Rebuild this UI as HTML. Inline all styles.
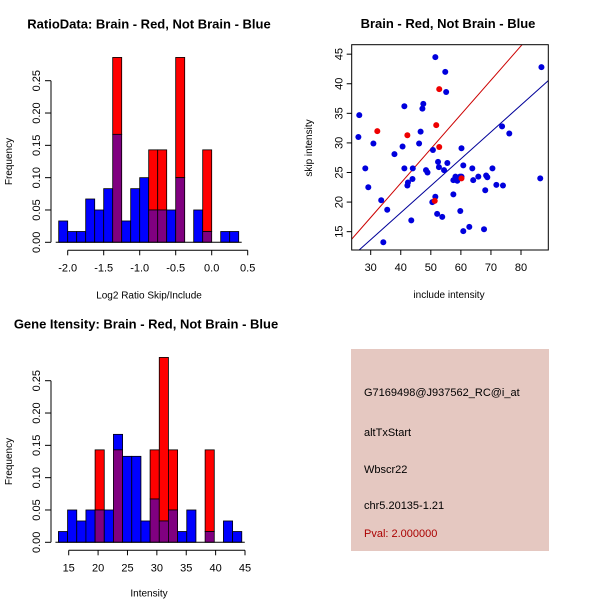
<!DOCTYPE html>
<html><head><meta charset="utf-8"><style>body{margin:0;background:#fff}svg{display:block;font-family:"Liberation Sans",sans-serif}</style></head>
<body>
<svg id="c" width="600" height="600" xmlns="http://www.w3.org/2000/svg"></svg>
<script>
// Ratio histogram
const ratioBreakStart = -2.125, ratioBin = 0.125;
const ratioBlue = [0.033,0.0167,0.0167,0.067,0.05,0.083,0.167,0.033,0.083,0.10,0.05,0.05,0.05,0.10,0,0.05,0.0167,0,0.0167,0.0167];
const ratioRed  = [0,0,0,0,0,0,0.286,0,0,0,0.143,0.143,0,0.286,0,0,0.143,0,0,0];
const ratioXTicks = [-2.0,-1.5,-1.0,-0.5,0.0,0.5];
const ratioXLabels = ["-2.0","-1.5","-1.0","-0.5","0.0","0.5"];
const freqTicks = [0,0.05,0.10,0.15,0.20,0.25];
const freqLabels = ["0.00","0.05","0.10","0.15","0.20","0.25"];
// Intensity histogram
const intBreakStart = 13.25, intBin = 1.56;
const intBlue = [0.0167,0.05,0.033,0.05,0.05,0.05,0.167,0.133,0.133,0.033,0.067,0.033,0.05,0.0167,0.05,0,0.0167,0,0.033,0.0167];
const intRed  = [0,0,0,0,0.143,0,0.143,0,0,0,0.143,0.286,0.143,0,0,0,0.143,0,0,0];
const intXTicks = [15,20,25,30,35,40,45];
// Scatter
const blueX = [51.5,54.8,55.1,86.8,26.2,41.2,47.5,47.2,25.9,30.9,46.6,46.1,40.6,37.9,50.7,60.2,73.7,76.1,28.2,41.2,44.0,52.4,55.5,52.7,60.8,63.8,70.5,29.2,42.4,42.2,43.9,48.4,48.9,54.4,57.5,58.2,59.7,58.8,64.1,65.8,68.4,68.8,57.5,68.1,71.8,74.0,86.4,33.5,51.5,50.5,35.5,52.1,53.8,59.8,43.5,60.8,62.8,67.7,34.2,60.2];
const blueY = [44.5,42.0,38.6,42.8,34.7,36.2,36.6,35.8,31.0,29.9,31.9,29.9,29.4,28.1,28.8,29.1,32.8,31.6,25.7,25.7,25.7,26.8,26.6,25.9,26.2,25.7,25.7,22.5,23.3,22.8,23.9,25.4,25.0,25.4,23.7,24.3,24.3,23.6,23.7,24.3,24.5,24.2,21.3,22.0,22.9,22.8,24.0,20.3,20.9,20.0,18.7,18.0,17.5,18.5,16.9,15.1,15.8,15.4,13.2,24.3];
const redX = [32.2,42.2,51.8,52.8,52.8,60.2,51.3];
const redY = [32.0,31.3,33.0,39.1,29.3,24.0,20.2];
const redSlope = 0.58, blueSlope = 0.455;
const scXTicks = [30,40,50,60,70,80];
const scYTicks = [15,20,25,30,35,40,45];

const svg = document.getElementById('c');
const NS = 'http://www.w3.org/2000/svg';
function mk(tag, attrs, parent){const e=document.createElementNS(NS,tag);for(const k in attrs)e.setAttribute(k,attrs[k]);(parent||svg).appendChild(e);return e;}
function txt(x,y,s,opts,parent){const t=mk('text',Object.assign({x:x,y:y,'font-size':11,'text-anchor':'middle',fill:'#000'},opts||{}),parent);t.textContent=s;return t;}

function hist(name, gx, by, breakStart, bw, blue, red, xt, xl, title, titleX, xlab, xlabDy){
  const g = mk('g',{});
  
  
  const y0 = by, ys = 646.4;
  const Y = v => y0 - v*ys;
  const X = v => gx.x0 + (v - gx.v0)*gx.k;
  for(let i=0;i<blue.length;i++){
    const b=blue[i], r=red[i]; const lo=Math.min(b,r), hi=Math.max(b,r);
    const xa=X(breakStart+i*bw), xb=X(breakStart+(i+1)*bw);
    if(hi<=0) continue;
    const bar=mk('g',{},g);
    
    
    if(hi>lo) mk('rect',{x:xa,y:Y(hi),width:xb-xa,height:Y(lo)-Y(hi),fill:(b>r?'#0000ff':'#ff0000'),stroke:'#000','stroke-width':0.8},bar);
    if(lo>0) mk('rect',{x:xa,y:Y(lo),width:xb-xa,height:Y(0)-Y(lo),fill:'#800080',stroke:'#000','stroke-width':0.8},bar);
  }
  mk('line',{x1:X(breakStart)-3,x2:X(breakStart+blue.length*bw)+3,y1:y0,y2:y0,stroke:'#000'},g);
  const yax=mk('g',{},g);
  
  
  mk('line',{x1:51,x2:51,y1:Y(0),y2:Y(0.25),stroke:'#000'},yax);
  freqTicks.forEach((v,i)=>{mk('line',{x1:45,x2:51,y1:Y(v),y2:Y(v),stroke:'#000'},yax);txt(40,Y(v),freqLabels[i],{transform:`rotate(-90 40 ${Y(v)})`},yax);});
  txt(12,(Y(0)+Y(0.25))/2,'Frequency',{'font-size':10,transform:`rotate(-90 12 ${(Y(0)+Y(0.25))/2})`},yax);
  const xax=mk('g',{},g);
  
  
  const ay=y0+8;
  mk('line',{x1:X(xt[0]),x2:X(xt[xt.length-1]),y1:ay,y2:ay,stroke:'#000'},xax);
  xt.forEach((v,i)=>{mk('line',{x1:X(v),x2:X(v),y1:ay,y2:ay+5,stroke:'#000'},xax);txt(X(v),ay+21,xl[i],{},xax);});
  txt(149,y0+xlabDy,xlab,{'font-size':10},xax);
  const t=txt(titleX,y0-214,title,{'font-size':13,'font-weight':'bold'},g);
  
  
}
hist('ratio-histogram',{x0:67.7,v0:-2.0,k:72},242.3,ratioBreakStart,ratioBin,ratioBlue,ratioRed,ratioXTicks,ratioXLabels,'RatioData: Brain - Red, Not Brain - Blue',149,'Log2 Ratio Skip/Include',56);
hist('intensity-histogram',{x0:68.7,v0:15,k:5.877},542.3,intBreakStart,intBin,intBlue,intRed,intXTicks,intXTicks.map(String),'Gene Itensity: Brain - Red, Not Brain - Blue',146,'Intensity',54);

// scatter
const sc=mk('g',{});


const L=351.7,R=548.3,T=44.7,B=250;
const xmin=23.68,xmax=89.08,ymin=11.9,ymax=46.6;
const SX=v=>L+(v-xmin)/(xmax-xmin)*(R-L), SY=v=>B-(v-ymin)/(ymax-ymin)*(B-T);
const cp=mk('clipPath',{id:'cp'},sc);
mk('rect',{x:L,y:T,width:R-L,height:B-T},cp);
const lines=mk('g',{'clip-path':'url(#cp)'},sc);
const rl=mk('line',{x1:SX(xmin),y1:SY(xmin*redSlope),x2:SX(xmax),y2:SY(xmax*redSlope),stroke:'#cc0000'},lines);


const bl=mk('line',{x1:SX(xmin),y1:SY(xmin*blueSlope),x2:SX(xmax),y2:SY(xmax*blueSlope),stroke:'#000099'},lines);


blueX.forEach((v,i)=>{const c=mk('circle',{cx:SX(v),cy:SY(blueY[i]),r:3,fill:'#0000dd'},sc);

});
redX.forEach((v,i)=>{const c=mk('circle',{cx:SX(v),cy:SY(redY[i]),r:3,fill:'#ee0000'},sc);

});
mk('rect',{x:L,y:T,width:R-L,height:B-T,fill:'none',stroke:'#000'},sc);
scXTicks.forEach(v=>{mk('line',{x1:SX(v),x2:SX(v),y1:B,y2:B+5,stroke:'#000'},sc);txt(SX(v),B+21,String(v),{},sc);});
scYTicks.forEach(v=>{mk('line',{x1:L-5,x2:L,y1:SY(v),y2:SY(v),stroke:'#000'},sc);txt(L-9,SY(v),String(v),{transform:`rotate(-90 ${L-9} ${SY(v)})`},sc);});
txt(449,298,'include intensity',{'font-size':10},sc);
txt(312,148,'skip intensity',{'font-size':10,transform:'rotate(-90 312 148)'},sc);
txt(448,28,'Brain - Red, Not Brain - Blue',{'font-size':13,'font-weight':'bold'},sc);

// info panel
const ip=mk('g',{});


mk('rect',{x:351,y:349,width:198,height:202,fill:'#e5c8c1'},ip);
const lines2=[['G7169498@J937562_RC@i_at',396,'#000'],['altTxStart',436,'#000'],['Wbscr22',473,'#000'],['chr5.20135-1.21',509,'#000'],['Pval: 2.000000',537,'#aa0000']];
lines2.forEach(l=>txt(364,l[1],l[0],{'text-anchor':'start','font-size':11,fill:l[2]},ip));
</script>
</body></html>
